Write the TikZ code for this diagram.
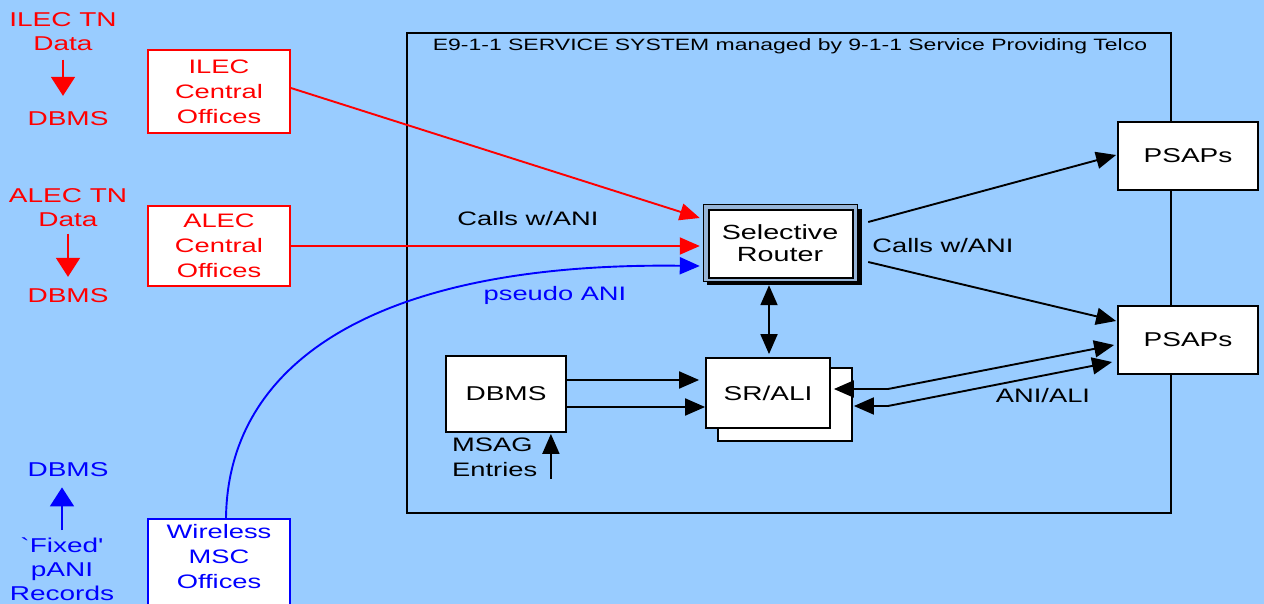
\documentclass[tikz,border=0pt]{standalone}
\usepackage{fontspec}
\setmainfont{Liberation Sans}[FakeStretch=1.4]
\newfontfamily\rawfont{Liberation Sans}[FakeStretch=1.4]
\usetikzlibrary{arrows.meta,calc}
\definecolor{bg}{RGB}{153,204,255}
\definecolor{band}{RGB}{150,180,215}
\newcommand\lblfont{\fontsize{20}{24}\selectfont}
\newcommand\boxfont{\fontsize{19.5}{25}\selectfont}
\newcommand\srfont{\fontsize{20.5}{22}\selectfont}
\newcommand\ttlfont{\fontsize{16.4}{20}\selectfont}
\begin{document}
\begin{tikzpicture}[x=1pt,y=-1pt,
  lab/.style={inner sep=0pt, align=center, font=\lblfont},
  rbox/.style={draw=red, fill=white, line width=1.8pt, text=red, minimum width=142pt, inner sep=0pt, align=center, font=\boxfont},
  bbox/.style={draw=blue, fill=white, line width=1.8pt, text=blue, minimum width=142pt, inner sep=0pt, align=center, font=\boxfont},
  kbox/.style={draw=black, fill=white, line width=1.8pt, inner sep=0pt, align=center, font=\boxfont},
  tri/.style={-{Triangle[length=20pt,width=17pt]}},
  dtri/.style={{Triangle[length=20pt,width=17pt]}-{Triangle[length=20pt,width=17pt]}},
  bigtri/.style={-{Triangle[length=19pt,width=24pt]}},
  con/.style={line width=1.9pt},
]
\fill[bg] (0,0) rectangle (1264,604);
\useasboundingbox (0,0) rectangle (1264,604);

% system box
\node[draw=black, line width=1.8pt, minimum width=764pt, minimum height=480pt, inner sep=0pt, anchor=north west] (sys) at (406,32) {};
\node[inner sep=0pt, font=\ttlfont, anchor=base] (title) at (790,51) {E9-1-1 SERVICE SYSTEM managed by 9-1-1 Service Providing Telco};

% left labels
\node[lab, text=red, anchor=north] (iltn) at (63,12) {ILEC TN\\Data};
\node[lab, text=red, anchor=base] (ildb) at (68,126) {DBMS};
\draw[con, red, bigtri, shorten <=9pt, shorten >=16pt] (iltn.south) -- (iltn.south |- ildb.north);

\node[lab, text=red, anchor=north] (altn) at (68,188) {ALEC TN\\Data};
\node[lab, text=red, anchor=base] (aldb) at (68,302) {DBMS};
\draw[con, red, bigtri, shorten <=7pt, shorten >=11pt] (altn.south) -- (altn.south |- aldb.north);

\node[lab, text=blue, anchor=base] (bldb) at (68,476) {DBMS};
\node[lab, text=blue, anchor=north] (bltx) at (62,538) {{\rawfont `Fixed'}\\pANI\\Records};
\draw[con, blue, bigtri, shorten <=8pt, shorten >=11pt] (bltx.north) -- (bltx.north |- bldb.south);

% central offices
\node[rbox, minimum height=83pt] (ilec) at (219,91.5) {ILEC\\Central\\Offices};
\node[rbox, minimum height=80pt] (alec) at (219,246) {ALEC\\Central\\Offices};
\begin{scope}
\clip (0,0) rectangle (1264,604);
\node[bbox, anchor=north, inner ysep=5pt, text depth=40pt] (wms) at (219,518) {Wireless\\MSC\\Offices};
\end{scope}

% selective router
\fill[black] (707,209) rectangle (862,285);
\filldraw[fill=band, draw=black, line width=1pt] (703,205) rectangle (857,281);
\filldraw[fill=white, draw=black, line width=1.2pt] (709,210) rectangle (853,278);
\node[inner sep=0pt, minimum width=154pt, minimum height=76pt, align=center, font=\srfont] (sr) at (780,243) {Selective\\Router};

% SR/ALI
\node[kbox, minimum width=134pt, minimum height=73pt] (srali2) at (785,404.5) {};
\node[kbox, minimum width=124pt, minimum height=70pt, font=\lblfont] (srali) at (768,393) {SR/ALI};

% DBMS
\node[kbox, minimum width=120pt, minimum height=76pt, font=\lblfont] (dbms) at (506,394) {DBMS};
\node[inner sep=0pt, align=left, font=\boxfont, anchor=north west] (msag) at (452,438) {MSAG\\Entries};

% PSAPs
\node[kbox, minimum width=140pt, minimum height=68pt, font=\lblfont] (psap1) at (1188,156) {PSAPs};
\node[kbox, minimum width=140pt, minimum height=68pt, font=\lblfont] (psap2) at (1188,340) {PSAPs};

% connectors
\draw[con, red, tri] ($(ilec.east)+(0,-3.5)$) -- ($(sr.west)+(-3,-25)$);
\draw[con, red, tri] (alec.east) -- ($(sr.west)+(-3,3)$);
\draw[con, blue, tri] (wms.north) ++(7,0) .. controls (228,360) and (380,262) .. ($(sr.west)+(-3,23)$);

\draw[con, dtri] ($(sr.south)+(-11,4)$) -- ($(srali.north)+(1,-3)$);

\draw[con, tri] ($(sr.east)+(11,-21)$) -- ($(psap1.west)+(-1,-1)$);
\draw[con, tri] ($(sr.east)+(11,19)$) -- ($(psap2.west)+(-1,-19)$);

\draw[con, tri] ($(dbms.east)+(0,-14)$) -- ($(srali.west)+(-6,-13)$);
\draw[con, tri] ($(dbms.east)+(0,13)$) -- ($(srali.west)+(0,14)$);
\draw[con, tri] ($(dbms.south east)+(-16,46)$) -- ($(dbms.south east)+(-16,1)$);

\coordinate (a1) at (888,389);
\coordinate (b1) at (888,406);
\draw[con, dtri] ($(srali.east)+(3,-4)$) -- (a1) -- ($(psap2.west)+(-3,5)$);
\draw[con, dtri] ($(srali2.east)+(1,1.5)$) -- (b1) -- ($(psap2.west)+(-5,22)$);

% labels
\node[inner sep=0pt, font=\boxfont, anchor=base] (l1) at (528,226) {Calls w/ANI};
\node[inner sep=0pt, font=\boxfont, anchor=base, text=blue] (l2) at (555,300) {pseudo ANI};
\node[inner sep=0pt, font=\boxfont, anchor=base] (l3) at (943,252) {Calls w/ANI};
\node[inner sep=0pt, font=\boxfont, anchor=base] (l4) at (1043,402) {ANI/ALI};
\end{tikzpicture}
\end{document}
